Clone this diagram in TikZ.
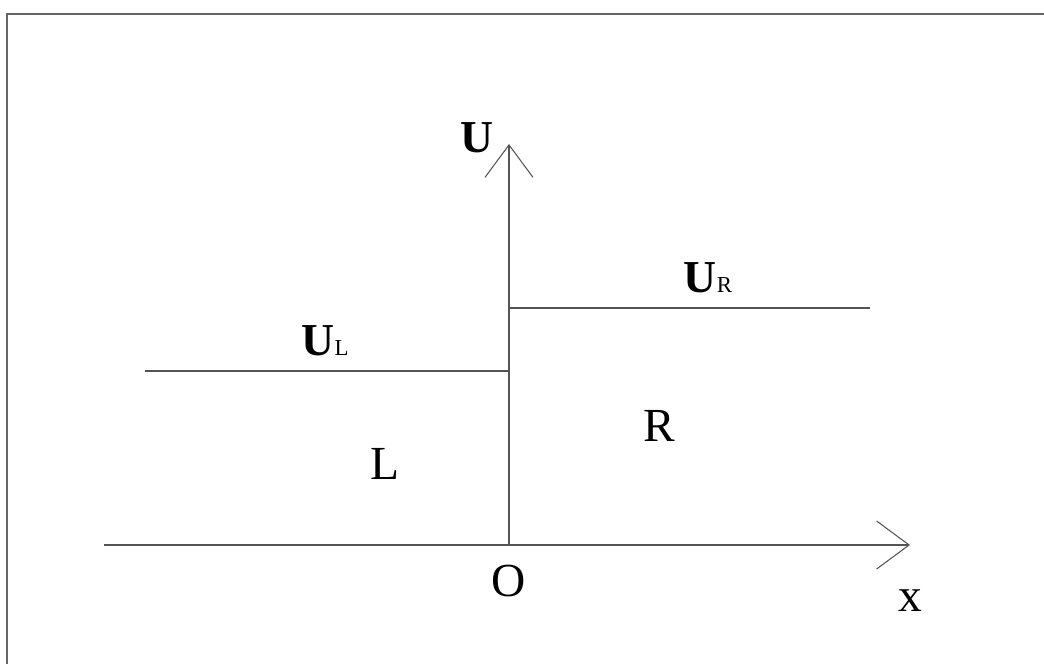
\documentclass[tikz,border=0pt]{standalone}
\usepackage{fontspec}
\setmainfont{Liberation Serif}
\usepackage{xcolor}
\definecolor{axisgray}{rgb}{0.33,0.33,0.33}
\definecolor{framegray}{rgb}{0.4,0.4,0.4}
\usepackage{tikz}
\usetikzlibrary{arrows.meta, positioning}

\begin{document}
\begin{tikzpicture}[
  axis/.style={draw=axisgray, line width=0.6pt, -{Straight Barb[length=6.5mm, width=9.6mm, line width=0.6pt]}},
  level/.style={draw=axisgray, line width=0.6pt},
  lab/.style={inner sep=0pt, font=\fontsize{27}{30}\selectfont},
  blab/.style={inner sep=0pt, font=\fontsize{26}{30}\selectfont\bfseries},
  sub/.style={font=\fontsize{13}{15}\selectfont\mdseries}
]
\useasboundingbox (-10.18,-2.38) rectangle (10.7,10.9);
\draw[framegray, line width=1pt] (-10.04,-2.38) -- (-10.04,10.62) -- (10.7,10.62);
\coordinate (O) at (0,0);
\coordinate (xl) at (-8.1,0);
\coordinate (xr) at (8.02,0);
\coordinate (ut) at (0,8.02);
\coordinate (ll) at (-7.28,3.48);
\coordinate (lr) at (0,3.48);
\coordinate (rl) at (0,4.74);
\coordinate (rr) at (7.22,4.74);
\draw[axis] (xl) -- (xr);
\draw[axis] (O) -- (ut);
\draw[level] (ll) -- (lr);
\draw[level] (rl) -- (rr);
\node[blab] (ulab) at (-0.64,8.14) {U};
\node[blab, anchor=base] (ullab) at (-3.68,3.79) {U{\fontsize{13}{15}\selectfont\mdseries L}};
\node[blab, anchor=base] (urlab) at (3.98,5.05) {U{\fontsize{13}{15}\selectfont\mdseries R}};
\node[lab] (lreg) at (-2.48,1.62) {L};
\node[lab] (rreg) at (3.0,2.38) {R};
\node[lab] (olab) at (0,-0.72) {O};
\node[lab] (xlab) at (8.02,-1.12) {x};
\end{tikzpicture}
\end{document}
